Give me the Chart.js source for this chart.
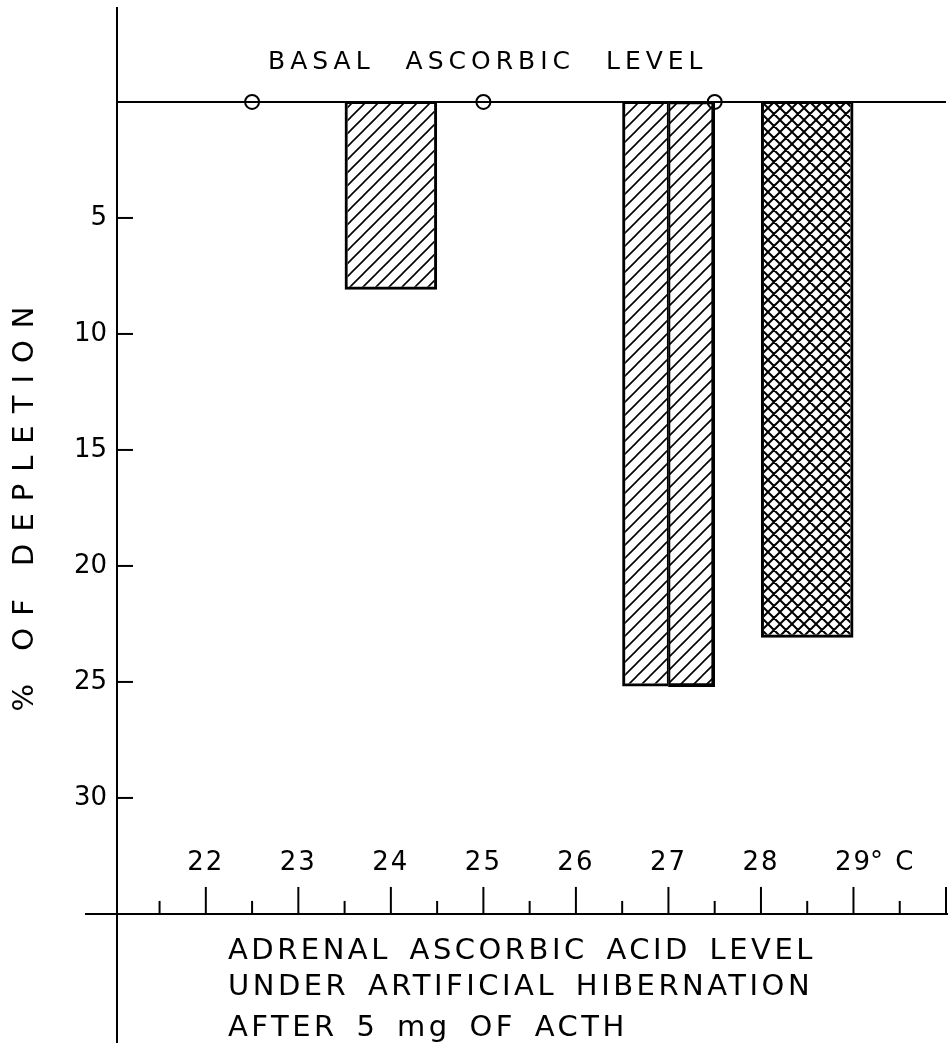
<!DOCTYPE html>
<html><head><meta charset="utf-8">
<script src="https://cdn.jsdelivr.net/npm/chart.js@4.4.0/dist/chart.umd.min.js"></script>
<style>html,body{margin:0;padding:0;background:#fff}#wrap{width:948px;height:1049px}canvas{display:block}</style>
</head><body><div id="wrap"><canvas id="c" width="948" height="1049"></canvas></div>
<script>
// ---- data ----
const xRange = [21.04, 30];          // temperature axis extent (°C)
const yRange = [-4.05, 40.52];       // depletion axis extent (%)
const barStarts = [23.5, 26.5, 27.0, 28.0];
const barEnds   = [24.5, 27.0, 27.5, 29.0];
const barDepletion = [8.1, 25.2, 25.2, 23.1];
const barPatterns = ['hatch', 'hatch', 'hatch', 'cross'];
const basalTemps = [22.5, 25, 27.5];
const basalValues = [0, 0, 0];
const yTickValues = [5, 10, 15, 20, 25, 30];
const xMajorTicks = [22, 23, 24, 25, 26, 27, 28, 29, 30];
const xMajorLabels = ['22', '23', '24', '25', '26', '27', '28', '29', ''];
const xMinorTicks = [21.5, 22.5, 23.5, 24.5, 25.5, 26.5, 27.5, 28.5, 29.5];
const xUnitSuffix = '° C';
const xAxisAt = 35;
const basalLevel = 0;
const yTitle = '% OF DEPLETION';
const basalLabel = 'BASAL ASCORBIC LEVEL';
const titleLines = ['ADRENAL ASCORBIC ACID LEVEL', 'UNDER ARTIFICIAL HIBERNATION', 'AFTER 5 mg OF ACTH'];

const FONT = '"DejaVu Sans", sans-serif';
const canvas = document.getElementById('c');
const mainCtx = canvas.getContext('2d');

function makePattern(kind) {
  const s = kind === 'cross' ? 12 : 13;
  const c = document.createElement('canvas'); c.width = s; c.height = s;
  const g = c.getContext('2d');
  g.strokeStyle = '#000'; g.lineWidth = kind === 'cross' ? 2 : 1.6; g.lineCap = 'square';
  g.beginPath();
  g.moveTo(-2, s + 2); g.lineTo(s + 2, -2);
  g.moveTo(-2, 2); g.lineTo(2, -2);
  g.moveTo(s - 2, s + 2); g.lineTo(s + 2, s - 2);
  if (kind === 'cross') {
    g.moveTo(-2, -2); g.lineTo(s + 2, s + 2);
    g.moveTo(s - 2, -2); g.lineTo(s + 2, 2);
    g.moveTo(-2, s - 2); g.lineTo(2, s + 2);
  }
  g.stroke();
  return mainCtx.createPattern(c, 'repeat');
}
const patterns = { hatch: makePattern('hatch'), cross: makePattern('cross') };

const barSets = barStarts.map((s, i) => {
  const e = barEnds[i];
  const leftShared = barEnds.includes(s);
  const rightShared = barStarts.includes(e);
  return {
    type: 'bar',
    data: [{ x: (s + e) / 2, y: barDepletion[i] }],
    backgroundColor: patterns[barPatterns[i]],
    borderColor: '#000',
    borderWidth: { top: 2, bottom: 3, left: leftShared ? 1.5 : 3, right: rightShared ? 1.5 : 3 },
    borderSkipped: false,
    grouped: false,
    categoryPercentage: 1,
    barPercentage: 1,
    order: 3
  };
});

const basalLine = {
  type: 'line',
  data: [{ x: xRange[0], y: basalLevel }, { x: xRange[1], y: basalLevel }],
  borderColor: '#000', borderWidth: 2, pointRadius: 0, order: 1
};
const basalPoints = {
  type: 'scatter',
  data: basalTemps.map((t, i) => ({ x: t, y: basalValues[i] })),
  pointRadius: 7, pointBorderWidth: 2, pointBorderColor: '#000',
  pointBackgroundColor: 'rgba(0,0,0,0)', order: 0
};

const decor = {
  id: 'decor',
  afterDraw(chart) {
    const ctx = chart.ctx, xs = chart.scales.x, ys = chart.scales.y;
    const axisY = ys.getPixelForValue(xAxisAt);
    ctx.save();
    ctx.strokeStyle = '#000'; ctx.fillStyle = '#000'; ctx.lineWidth = 2; ctx.lineCap = 'butt';
    const seg = (x1, y1, x2, y2) => { ctx.beginPath(); ctx.moveTo(x1, y1); ctx.lineTo(x2, y2); ctx.stroke(); };
    // temperature axis
    seg(xs.left - 32, axisY, xs.right + 2, axisY);
    xMajorTicks.forEach(v => { const p = xs.getPixelForValue(v); seg(p, axisY, p, axisY - 27); });
    xMinorTicks.forEach(v => { const p = xs.getPixelForValue(v); seg(p, axisY, p, axisY - 13); });
    // depletion ticks pointing inward
    yTickValues.forEach(v => { const p = ys.getPixelForValue(v); seg(ys.right, p, ys.right + 16, p); });
    // temperature labels
    ctx.font = '26px ' + FONT; ctx.textBaseline = 'middle'; ctx.letterSpacing = '2px'; ctx.textAlign = 'left';
    const lastIdx = xMajorLabels.map(l => !!l).lastIndexOf(true);
    xMajorLabels.forEach((lab, i) => {
      if (!lab) return;
      const p = xs.getPixelForValue(xMajorTicks[i]);
      const w = ctx.measureText(lab).width;
      ctx.fillText(lab, p - w / 2, axisY - 51);
      if (i === lastIdx) ctx.fillText(xUnitSuffix, p + w / 2 - 2, axisY - 51);
    });
    // y title
    ctx.save();
    ctx.translate(25, 503); ctx.rotate(-Math.PI / 2);
    ctx.font = '29px ' + FONT; ctx.letterSpacing = '12px'; ctx.textAlign = 'center';
    ctx.fillText(yTitle, 0, 0);
    ctx.restore();
    // basal label
    ctx.font = '25px ' + FONT; ctx.letterSpacing = '5px'; ctx.wordSpacing = '18px'; ctx.textAlign = 'left';
    ctx.fillText(basalLabel, 268, 62);
    // bottom title
    ctx.font = '29px ' + FONT; ctx.letterSpacing = '3.5px'; ctx.wordSpacing = '6px';
    const ty = [951, 987, 1028];
    titleLines.forEach((t, i) => ctx.fillText(t, 228, ty[i]));
    ctx.restore();
  }
};

const chart = new Chart(mainCtx, {
  type: 'bar',
  data: { datasets: [...barSets, basalLine, basalPoints] },
  options: {
    responsive: false, animation: false, devicePixelRatio: 1,
    layout: { autoPadding: false, padding: { top: 8, right: 2, bottom: 7, left: 0 } },
    plugins: { legend: { display: false }, tooltip: { enabled: false } },
    scales: {
      x: {
        type: 'linear', min: xRange[0], max: xRange[1], display: false, offset: false,
        afterBuildTicks: s => { s.ticks = [...xMinorTicks, ...xMajorTicks].sort((a, b) => a - b).map(v => ({ value: v })); }
      },
      y: {
        type: 'linear', reverse: true, min: yRange[0], max: yRange[1],
        afterBuildTicks: s => { s.ticks = yTickValues.map(v => ({ value: v })); },
        afterFit: s => { s.width = 117; s.paddingTop = 0; s.paddingBottom = 0; s.paddingLeft = 0; s.paddingRight = 0; },
        grid: { display: false, drawTicks: false },
        border: { display: true, color: '#000', width: 2 },
        ticks: { color: '#000', font: { family: 'DejaVu Sans', size: 26 }, padding: 10 }
      }
    }
  },
  plugins: [decor]
});

// size each bar to span its temperature interval on the library's x scale
const xs = chart.scales.x;
barSets.forEach((ds, i) => {
  const ruler = chart.getDatasetMeta(i).controller._getRuler();
  const want = Math.abs(xs.getPixelForValue(barEnds[i]) - xs.getPixelForValue(barStarts[i]));
  ds.barPercentage = want / ruler.min;
});
chart.update();
</script>
</body></html>
